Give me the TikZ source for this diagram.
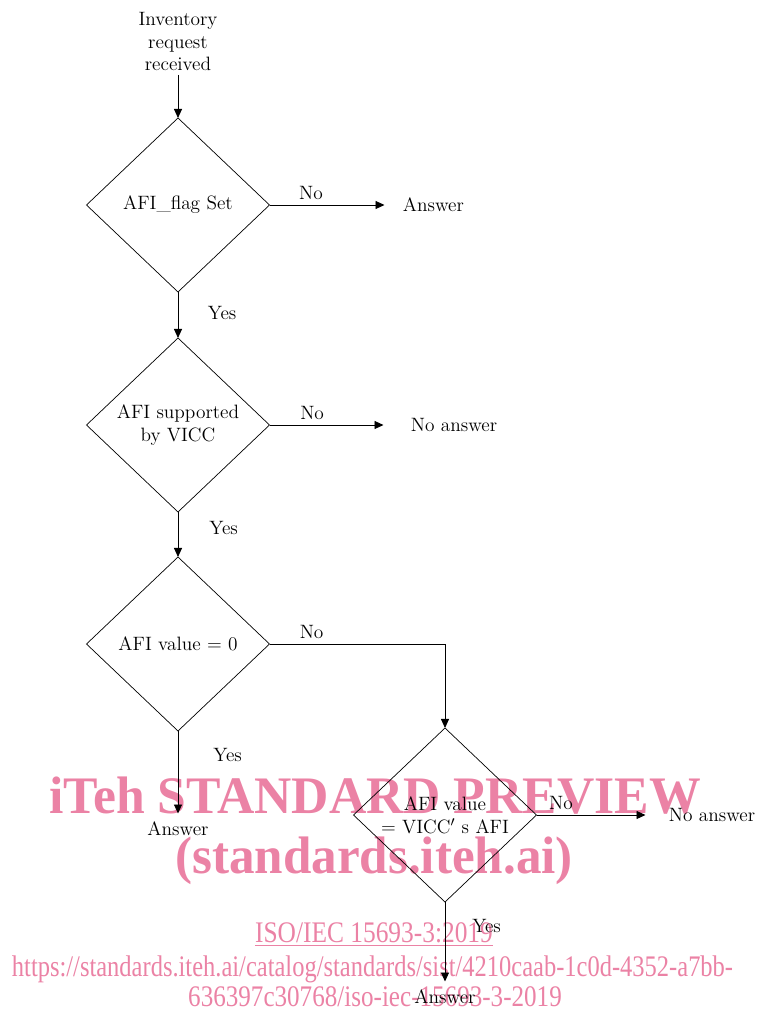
\documentclass[tikz,border=0pt]{standalone}
\usepackage{fontspec}
\usepackage{tikz}
\usetikzlibrary{arrows.meta,positioning,shapes.geometric}

\newfontfamily\wmfont{Liberation Serif}
\definecolor{wmpink}{RGB}{235,130,165}

\begin{document}
\begin{tikzpicture}[
  node distance=0.9cm,
  decision/.style={draw, diamond, inner sep=0pt, outer sep=0pt, align=center,
    minimum width=3.66cm, minimum height=3.48cm, font=\fontsize{11}{13}\selectfont},
  flow/.style={inner sep=2pt, align=center, font=\fontsize{11}{13}\selectfont},
  lbl/.style={inner sep=2pt, font=\fontsize{11}{13}\selectfont},
  arrow/.style={-{Triangle[length=1.8mm, width=1.6mm]}, line width=0.5pt},
  wmark/.style={text=wmpink, inner sep=0pt, anchor=base}
]
\useasboundingbox (0,0) rectangle (15.18,-20.24);

% watermark, behind the chart
\node[wmark, font=\wmfont\bfseries\fontsize{30}{30}\selectfont] (wmtitle) at (7.50,-16.26)
  {\scalebox{0.98}[1]{iTeh STANDARD PREVIEW}};
\node[wmark, font=\wmfont\bfseries\fontsize{30}{30}\selectfont] (wmsite) at (7.48,-17.46)
  {\scalebox{0.97}[1]{(standards.iteh.ai)}};
\node[wmark, font=\wmfont\fontsize{17}{17}\selectfont] (wmiso) at (7.48,-18.85)
  {\scalebox{0.85}[1]{\underline{ISO/IEC 15693-3:2019}}};
\node[wmark, font=\wmfont\fontsize{17}{17}\selectfont] (wmurl) at (7.45,-19.53)
  {\scalebox{0.82}[1]{https://standards.iteh.ai/catalog/standards/sist/4210caab-1c0d-4352-a7bb-}};
\node[wmark, font=\wmfont\fontsize{17}{17}\selectfont] (wmurltail) at (7.50,-20.13)
  {\scalebox{0.84}[1]{636397c30768/iso-iec-15693-3-2019}};

% decisions
\node[decision] (flagset) at (3.56,-4.10) {AFI\_flag Set};
\node[flow, above=0.86cm of flagset] (start) {Inventory\\request\\received};
\node[decision, below=0.92cm of flagset] (afisup) {AFI supported\\by VICC};
\node[decision, below=0.9cm of afisup] (afizero) {AFI value = 0};
\node[decision] (afimatch) at (8.90,-16.30) {AFI value\\= VICC$'$ s AFI};

% outcomes
\node[flow, right=2.59cm of flagset] (ansflag) {Answer};
\node[flow, right=2.75cm of afisup] (noanssup) {No answer};
\node[flow, below=1.73cm of afizero] (anszero) {Answer};
\node[flow, right=2.57cm of afimatch] (noansmatch) {No answer};
\node[flow, below=1.67cm of afimatch] (ansmatch) {Answer};

\draw[arrow] (start) -- (flagset);
\draw[arrow, shorten >=0.29cm] (flagset) -- node[lbl, above=1pt, pos=0.32] {No} (ansflag);
\draw[arrow] (flagset) -- node[lbl, right=0.52cm, pos=0.46] {Yes} (afisup);
\draw[arrow, shorten >=0.47cm] (afisup) -- node[lbl, above=1pt, pos=0.31] {No} (noanssup);
\draw[arrow] (afisup) -- node[lbl, right=0.55cm, pos=0.36] {Yes} (afizero);
\draw[arrow] (afizero) -| node[lbl, above=1pt, pos=0.12] {No} (afimatch);
\draw[arrow, shorten >=0.08cm] (afizero) -- node[lbl, right=0.63cm, pos=0.28] {Yes} (anszero);
\draw[arrow, shorten >=0.39cm] (afimatch) -- node[lbl, above=1pt, pos=0.19] {No} (noansmatch);
\draw[arrow, shorten >=0.08cm] (afimatch) -- node[lbl, right=0.47cm, pos=0.29] {Yes} (ansmatch);
\end{tikzpicture}
\end{document}
